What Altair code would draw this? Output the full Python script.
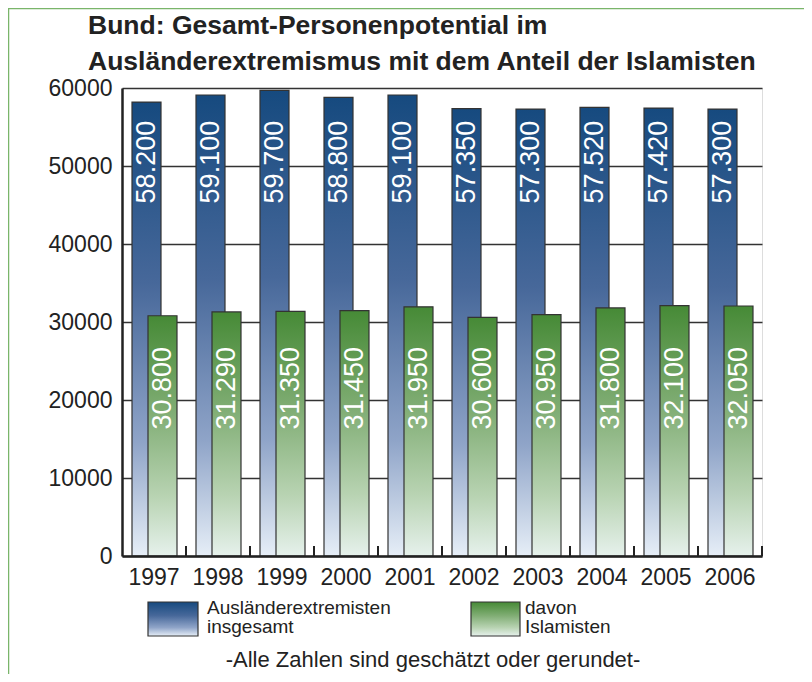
import altair as alt
import pandas as pd

years = ["1997", "1998", "1999", "2000", "2001", "2002", "2003", "2004", "2005", "2006"]
total = [58200, 59100, 59700, 58800, 59100, 57350, 57300, 57520, 57420, 57300]
islam = [30800, 31290, 31350, 31450, 31950, 30600, 30950, 31800, 32100, 32050]
y_ticks = [0, 10000, 20000, 30000, 40000, 50000, 60000]
title_line1 = "Bund: Gesamt-Personenpotential im"
title_line2 = "Ausländerextremismus mit dem Anteil der Islamisten"
legend_total = "Ausländerextremisten\ninsgesamt"
legend_islam = "davon\nIslamisten"
footnote = "-Alle Zahlen sind geschätzt oder gerundet-"


def fmt(v):
    return f"{v:,}".replace(",", ".")


df = pd.DataFrame({
    "year": years,
    "total": total,
    "islam": islam,
    "total_lbl": [fmt(v) for v in total],
    "islam_lbl": [fmt(v) for v in islam],
})
one = pd.DataFrame({"k": [0]})

FONT = "Liberation Sans"
TXT = "#222222"


def grad(stops):
    return alt.Gradient(
        gradient="linear",
        stops=[alt.GradientStop(color=c, offset=o) for o, c in stops],
        x1=0, x2=0, y1=0, y2=1,
    )


blue_grad = grad([(0, "#164a7f"), (0.4, "#47689a"), (0.75, "#8fa4c8"), (1, "#e6eef7")])
green_grad = grad([(0, "#468a36"), (0.4, "#80ad74"), (0.75, "#b8d3b2"), (1, "#e6f1ec")])

x_scale = alt.Scale(paddingInner=0, paddingOuter=0)
y_scale = alt.Scale(domain=[0, 60000], nice=False)

x_enc = alt.X("year:N", scale=x_scale, sort=years,
              axis=alt.Axis(title=None, labelAngle=0, ticks=False, domainColor=TXT,
                            domainWidth=2.5, labelFont=FONT, labelFontSize=23,
                            labelColor=TXT, labelPadding=10, zindex=1))
y_enc = alt.Y("total:Q", scale=y_scale,
              axis=alt.Axis(title=None, values=y_ticks, format="d", ticks=False,
                            domainColor=TXT, domainWidth=2.5, gridColor="#333333",
                            gridWidth=1.3, labelFont=FONT, labelFontSize=23,
                            labelColor=TXT, labelPadding=10))

bars_total = alt.Chart(df).mark_bar(
    fill=blue_grad, stroke="#333333", strokeWidth=1.2, width=29, xOffset=-7.5
).encode(x=x_enc, y=y_enc)

bars_islam = alt.Chart(df).mark_bar(
    fill=green_grad, stroke="#333333", strokeWidth=1.2, width=29, xOffset=8.5
).encode(x=alt.X("year:N", sort=years), y=alt.Y("islam:Q", scale=y_scale))

lbl_total = alt.Chart(df).mark_text(
    angle=270, align="center", baseline="middle", color="white", font=FONT,
    fontSize=27, xOffset=-7.5
).encode(x=alt.X("year:N", sort=years), y=alt.datum(50500), text="total_lbl:N")

lbl_islam = alt.Chart(df).mark_text(
    angle=270, align="center", baseline="middle", color="white", font=FONT,
    fontSize=27, xOffset=8.5
).encode(x=alt.X("year:N", sort=years), y=alt.datum(21500), text="islam_lbl:N")

ticks = alt.Chart(df).mark_rule(color=TXT, strokeWidth=2).encode(
    x=alt.X("year:N", sort=years, bandPosition=1),
    y=alt.value(468), y2=alt.value(458))

border_top = alt.Chart(one).mark_rule(color="#7ab56a", strokeWidth=2.5).encode(
    x=alt.value(-114), x2=alt.value(700), y=alt.value(-80))
border_left = alt.Chart(one).mark_rule(color="#7ab56a", strokeWidth=2.5).encode(
    x=alt.value(-114), y=alt.value(-80), y2=alt.value(600))

title1 = alt.Chart(one).mark_text(
    align="left", baseline="alphabetic", font=FONT, fontSize=26.5,
    fontWeight="bold", color=TXT
).encode(x=alt.value(-34), y=alt.value(-54), text=alt.value(title_line1))
title2 = alt.Chart(one).mark_text(
    align="left", baseline="alphabetic", font=FONT, fontSize=26.5,
    fontWeight="bold", color=TXT
).encode(x=alt.value(-34), y=alt.value(-18), text=alt.value(title_line2))

leg_box_total = alt.Chart(one).mark_rect(
    fill=blue_grad, stroke="#333333", strokeWidth=1.2
).encode(x=alt.value(26), x2=alt.value(76), y=alt.value(514), y2=alt.value(548))
leg_box_islam = alt.Chart(one).mark_rect(
    fill=green_grad, stroke="#333333", strokeWidth=1.2
).encode(x=alt.value(349), x2=alt.value(398), y=alt.value(514), y2=alt.value(548))

leg_txt_total = alt.Chart(one).mark_text(
    align="left", baseline="top", font=FONT, fontSize=19, color=TXT,
    lineBreak="\n", lineHeight=19
).encode(x=alt.value(85), y=alt.value(511), text=alt.value(legend_total))
leg_txt_islam = alt.Chart(one).mark_text(
    align="left", baseline="top", font=FONT, fontSize=19, color=TXT,
    lineBreak="\n", lineHeight=19
).encode(x=alt.value(403), y=alt.value(511), text=alt.value(legend_islam))

foot = alt.Chart(one).mark_text(
    align="center", baseline="middle", font=FONT, fontSize=22, color=TXT
).encode(x=alt.value(311), y=alt.value(572), text=alt.value(footnote))

chart = alt.layer(
    bars_total, bars_islam, lbl_total, lbl_islam, ticks,
    border_top, border_left, title1, title2, leg_box_total, leg_box_islam,
    leg_txt_total, leg_txt_islam, foot,
).properties(
    width=640, height=468,
    padding={"left": 114, "top": 80, "right": 42, "bottom": 118},
    autosize=alt.AutoSizeParams(type="none"),
).configure_view(stroke=None).configure(background="white")

chart.save("out.html", embed_options={"renderer": "svg", "actions": False})
